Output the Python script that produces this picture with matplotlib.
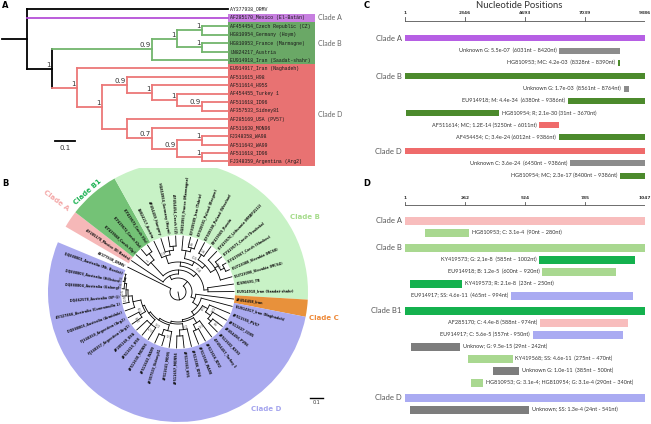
import numpy as np
import matplotlib.pyplot as plt
from matplotlib.patches import Rectangle, Wedge

# ---------------- data ----------------
# Panel A tips (top to bottom)
tips_A = ["AY377938_ORMV", "AF285170_Mexico (El-Batán)",
          "AF454454_Czech Republic (CZ)", "HG810954_Germany (Hoym)",
          "HG810953_France (Marmagne)", "LN824217_Austria",
          "EU914918_Iran (Saadat-shahr)", "EU914917_Iran (Naghadeh)",
          "AF511615_H98", "AF511614_H95S", "AF454455_Turkey 1", "AF511618_ID96",
          "AF357533_Sidney81", "AF285169_USA (PV57)", "AF511630_MON96",
          "FJ348358_WA98", "AF511643_WA99", "AF511618_ID96",
          "FJ348359_Argentina (Arg2)"]
clades_A = [("Clade A", 1, 1), ("Clade B", 2, 6), ("Clade D", 7, 18)]

# Panel B tips (clockwise from clade A)
tips_B = ["AF285170_Mexico (El-Batán)",
          "KY419568_Czech (Op)", "KY419572_Czech (Oz)", "KY419573_Czech (Ov)",
          "LN824217_Austria", "AF454459_Hungary", "HG810954_Germany (Hoym)",
          "AF454454_Czech (CZ)", "HG810953_France (Marmagne)", "KF939589_Iran (Tabriz)",
          "KF939591_Poland (Bergen)", "KF939590_Poland (Wroclaw)", "KY419569_Russia",
          "KY419570_Lithuania (MRBFU112)", "KY419571_Czech (Troubsko)",
          "KY419567_Czech (Slavkov)", "EU723088_Slovakia (MCS8)",
          "EU723090_Slovakia (MCS4)", "KC690691_TR", "EU914918_Iran (Saadat-shahr)",
          "AF454458_Iran",
          "EU914917_Iran (Naghadeh)", "AF511555_PV57", "AF511607_CO85", "AF454456_PV96",
          "AF511602_KS93", "AF454457_Turkey 1", "AF511616_ID92", "AF511568_WA98",
          "AF511586_ID94", "AF511563_H95", "AF511657_MON94", "AF511641_MO95",
          "AF357533_Sidney81", "AF511643_WA99", "AF511630_MON96", "AF511615_H98",
          "AF285169_USA", "FJ348357_Argentina (Arg1)", "FJ348359_Argentina (Arg2)",
          "DQ888805_Australia (Armidale)", "AY327866_Australia (Cunnamulla 1)",
          "DQ462578_Australia (SP-1)", "DQ888804_Australia (Galong)",
          "DQ888803_Australia (Hillston)", "DQ888801_Australia (Mt. Bordet)",
          "AY377938_ORMV"]
clades_B = [("Clade A", 0, 0, "#f6b8b8"), ("Clade B1", 1, 3, "#74c276"),
            ("Clade B", 4, 19, "#c8f2c6"), ("Clade C", 20, 20, "#e8913b"),
            ("Clade D", 21, 45, "#aaaaef")]

# Panel C (full genome)
c_labels = ["Clade A", "Unknown G: 5.5e-07  (6031nt – 8420nt)",
            "HG810953; MC: 4.2e-03  (8328nt – 8390nt)", "Clade B",
            "Unknown G: 1.7e-03  (8561nt – 8764nt)", "EU914918; M: 4.4e-34  (6380nt – 9386nt)",
            "HG810954; R; 2.1e-30 (31nt – 3670nt)", "AF511614; MC; 1.2E-14 (5250nt – 6011nt)",
            "AF454454; C; 3.4e-24 (6012nt – 9386nt)", "Clade D",
            "Unknown C: 3.6e-24  (6450nt – 9386nt)", "HG810954; MC; 2.3e-17 (8400nt – 9386nt)"]
c_start = [1, 6031, 8328, 1, 8561, 6380, 31, 5250, 6012, 1, 6450, 8400]
c_end = [9386, 8420, 8390, 9386, 8764, 9386, 3670, 6011, 9386, 9386, 9386, 9386]
c_colors = ["#b65fe4", "#8c8c8c", "#4c8a2c", "#4c8a2c", "#8c8c8c", "#4c8a2c",
            "#4c8a2c", "#ef6b6b", "#4c8a2c", "#ef6b6b", "#8c8c8c", "#4c8a2c"]
c_ticks = [1, 2346, 4693, 7039, 9386]

# Panel D (CP gene)
d_labels = ["Clade A", "HG810953; C: 3.1e-4  (90nt – 280nt)", "Clade B",
            "KY419573; G: 2,1e-8  (585nt – 1002nt)", "EU914918; B: 1.2e-5  (600nt – 920nt)",
            "KY419573; R: 2.1e-8  (23nt – 250nt)", "EU914917; SS: 4.6e-11  (465nt – 994nt)",
            "Clade B1", "AF285170; C: 4.4e-8 (588nt - 974nt)",
            "EU914917; C: 5.6e-5 (557nt - 950nt)", "Unknow; G: 9.5e-15 (29nt - 242nt)",
            "KY419568; SS: 4.6e-11  (275nt – 470nt)", "Unknown G: 1.0e-11  (385nt – 500nt)",
            "HG810953; G: 3.1e-4; HG810954; G: 3.1e-4 (290nt – 340nt)", "Clade D",
            "Unknown; SS: 1.3e-4 (24nt - 541nt)"]
d_start = [1, 90, 1, 585, 600, 23, 465, 1, 588, 557, 29, 275, 385, 290, 1, 24]
d_end = [1047, 280, 1047, 1002, 920, 250, 994, 1047, 974, 950, 242, 470, 500, 340, 1047, 541]
d_colors = ["#f8bdbd", "#a9d890", "#a9d890", "#14b14e", "#a9d890", "#14b14e", "#aaabf2",
            "#14b14e", "#f8bdbd", "#aaabf2", "#7d7d7d", "#a9d890", "#7d7d7d", "#a9d890",
            "#aaabf2", "#7d7d7d"]
d_ticks = [1, 262, 524, 785, 1047]


def N(pos, kids, sup=None, col=None):
    return {"pos": pos, "kids": kids, "sup": sup, "col": col}


# tree A: pos = node level
tree_A = N(1, [0, 1, N(2, [
    N(6, [N(7, [N(8, [2, 3], "1"), N(8, [4, 5], "1")], "1"), 6], "0.9", "#72b56c"),
    N(3, [7, N(4, [
        N(5, [8, N(6, [9, N(7, [10, N(8, [11, 12], "0.9")], "1")], "1")], "0.9"),
        N(5, [13, N(6, [14, N(7, [N(8, [15, 16], "1"), N(8, [17, 18], "1")], "0.9")], "0.7")]),
    ], "1")], "1", "#ec7777"),
], "1")], col="black")
tip_col_A = {1: "#b54fd8"}

# tree B: pos = radius
tree_B = N(8, [
    N(14, [
        N(18, [0, N(22, [
            N(40, [1, N(48, [2, 3])], "1"),
            N(26, [
                N(30, [
                    N(38, [4, N(42, [5, N(46, [6, 7])])], "0.9"),
                    N(34, [
                        N(42, [8, N(46, [9, 10], "0.8")]),
                        N(38, [N(44, [11, 12], "0.6"),
                               N(44, [13, N(48, [14, N(52, [15, 16])]), 17], "0.9")]),
                    ], "0.5"),
                ]),
                N(30, [18, 19]),
            ], "0.8"),
        ])]),
        N(18, [20, N(24, [21, N(28, [
            N(34, [22, N(40, [23, N(44, [24, 25], "0.8")])], "0.5"),
            N(30, [
                N(36, [26, N(42, [27, 28])], "0.5"),
                N(32, [
                    N(38, [29, N(44, [30, 31])]),
                    N(34, [
                        N(40, [32, N(46, [33, 34])], "0.5"),
                        N(36, [
                            N(42, [35, 36, 37], "0.7"),
                            N(38, [
                                N(44, [38, 39], "0.9"),
                                N(46, [40, N(50, [41, N(52, [42, N(54, [43, N(55, [44, 45], "0.8")], "0.6")], "0.5")], "0.9")]),
                            ], "0.9"),
                        ]),
                    ], "0.5"),
                ]),
            ], "0.9"),
        ])], "0.9")]),
    ]),
    46,
])

# ---------------- figure ----------------
W, H = 651, 424
fig = plt.figure(figsize=(W / 100, H / 100), dpi=100)


def px_axes(x0, y0, x1, y1):
    ax = fig.add_axes([x0 / W, 1 - y1 / H, (x1 - x0) / W, (y1 - y0) / H])
    ax.axis("off")
    return ax


# ---------- Panel A ----------
axA = px_axes(0, 0, 330, 172)
axA.set_xlim(-0.01, 1.64)
axA.set_ylim(19.25, -1.1)
step = 0.125
tip_x = 1.13


def layout_A(node):
    if isinstance(node, int):
        return node
    ys = [layout_A(k) for k in node["kids"]]
    node["lo"], node["hi"] = ys[0], ys[-1]
    node["y"] = (ys[0] + ys[-1]) / 2
    return node["y"]


def draw_A(node, px, color):
    if isinstance(node, int):
        c = tip_col_A.get(node, color)
        axA.plot([px, tip_x], [node, node], color=c, lw=1.3, solid_capstyle="projecting")
        return
    col = node["col"] or color
    x = node["pos"] * step
    axA.plot([px, x], [node["y"]] * 2, color=col, lw=1.3, solid_capstyle="projecting")
    axA.plot([x, x], [node["lo"], node["hi"]], color=col, lw=1.3, solid_capstyle="projecting")
    if node["sup"]:
        axA.text(x - 0.008, node["y"] - 0.12, node["sup"], ha="right", va="bottom",
                 fontsize=5, color="#333333")
    for k in node["kids"]:
        draw_A(k, x, col)


layout_A(tree_A)
box_cols = {"Clade A": "#c77fe0", "Clade B": "#6aa866", "Clade D": "#e87272"}
for name, a, b in clades_A:
    axA.add_patch(Rectangle((tip_x, a - 0.5), 0.435, b - a + 1, color=box_cols[name], lw=0))
    axA.text(1.58, (a + b) / 2, name, fontsize=5, color="#666666", family="Lato",
             va="center", ha="left", clip_on=False)
draw_A(tree_A, 0.0, "black")
for i, t in enumerate(tips_A):
    axA.text(tip_x + 0.01, i, t, fontsize=3.5, family="Liberation Mono",
             color="#1a1a1a", va="center")
axA.plot([0.265, 0.365], [15.55, 15.55], color="black", lw=1.3)
axA.text(0.315, 16.0, "0.1", fontsize=5, ha="center", va="top", color="#333333")

# ---------- Panel B ----------
axB = px_axes(0, 168, 345, 424)
axB.set_xlim(-178, 167)
axB.set_ylim(-132, 124)
nB = len(tips_B)
dA = 360 / nB
tip_ang = [146 - dA * i for i in range(nB)]
r_in, r_out, r_tip = 57, 130, 56

for name, a, b, col in clades_B:
    axB.add_patch(Wedge((0, 0), r_out, tip_ang[b] - dA / 2, tip_ang[a] + dA / 2,
                        width=r_out - r_in, color=col, lw=0))


def layout_B(node):
    if isinstance(node, int):
        return tip_ang[node]
    angs = [layout_B(k) for k in node["kids"]]
    node["lo"], node["hi"] = min(angs), max(angs)
    node["a"] = (node["lo"] + node["hi"]) / 2
    return node["a"]


def radial(ax, r0, r1, ang):
    t = np.radians(ang)
    ax.plot([r0 * np.cos(t), r1 * np.cos(t)], [r0 * np.sin(t), r1 * np.sin(t)],
            color="black", lw=0.6)


def draw_B(node, pr):
    if isinstance(node, int):
        radial(axB, pr, r_tip, tip_ang[node])
        return
    r = node["pos"]
    radial(axB, pr, r, node["a"])
    t = np.radians(np.linspace(node["lo"], node["hi"], 60))
    axB.plot(r * np.cos(t), r * np.sin(t), color="black", lw=0.6)
    if node["sup"]:
        t0 = np.radians(node["a"] + 2)
        axB.text((r + 3) * np.cos(t0), (r + 3) * np.sin(t0), node["sup"], fontsize=2.8,
                 color="#555555", ha="center", va="center", rotation=node["a"] - 90)
    for k in node["kids"]:
        draw_B(k, r)


layout_B(tree_B)
draw_B(tree_B, 0)
for i, t in enumerate(tips_B):
    a = ((tip_ang[i] + 180) % 360) - 180
    th = np.radians(a)
    if -90 <= a <= 90:
        rot, ha = a, "left"
    else:
        rot, ha = a - 180, "right"
    axB.text(59 * np.cos(th), 59 * np.sin(th), t, fontsize=2.3, fontweight="bold",
             rotation=rot, ha=ha, va="center", rotation_mode="anchor", color="#111111",
             clip_on=False)

lab_B = {"Clade A": (143, 152, -37, "#f4a9a9"), "Clade B1": (132, 135, 42, "#1db354"),
         "Clade B": (30.6, 147, 0, "#a6dc8c"), "Clade C": (-10, 148, 0, "#ee8a3a"),
         "Clade D": (-53, 146, 0, "#a5a5ee")}
for name, (ang, rr, rot, col) in lab_B.items():
    th = np.radians(ang)
    axB.text(rr * np.cos(th), rr * np.sin(th), name, fontsize=5, fontweight="bold",
             color=col, rotation=rot, ha="center", va="center", clip_on=False)
axB.plot([132, 145], [-106, -106], color="black", lw=1.0)
axB.text(138.5, -108, "0.1", fontsize=3.5, ha="center", va="top", color="#333333")


# ---------- Panels C & D ----------
def bar_panel(y_top, y_bot, labels, starts, ends, colors, ticks, y0, row_step, gap,
              bar_h, axis_y, title=None):
    ax = px_axes(405, y_top, 645, y_bot)
    xmax = ticks[-1]
    ax.set_xlim(1, xmax)
    ax.set_ylim(y_bot, y_top)
    ax.plot([1, xmax], [axis_y, axis_y], color="#555555", lw=0.6)
    for t in ticks:
        ax.plot([t, t], [axis_y - 3.5, axis_y], color="#555555", lw=0.6)
        ax.text(t, axis_y - 5, str(t), fontsize=3.2, ha="center", va="bottom",
                color="#333333", fontweight="bold", clip_on=False)
    if title:
        ax.text((1 + xmax) / 2 - 0.025 * xmax, axis_y - 10.5, title, fontsize=6.8,
                family="Lato", ha="center", va="bottom", color="#333333", clip_on=False)
    y = y0
    for i, lab in enumerate(labels):
        if lab.startswith("Clade") and i > 0:
            y += gap
        ax.barh(y, ends[i] - starts[i], left=starts[i], height=bar_h, color=colors[i], lw=0)
        if lab.startswith("Clade"):
            ax.annotate(lab, (1, y), xytext=(-2.5, 0), textcoords="offset points",
                        ha="right", va="center", fontsize=5.5, family="Lato",
                        color="#555555", annotation_clip=False)
        elif starts[i] > 0.43 * xmax:
            ax.annotate(lab, (starts[i], y), xytext=(-2, 0), textcoords="offset points",
                        ha="right", va="center", fontsize=4, family="Lato",
                        color="#333333", annotation_clip=False)
        else:
            ax.annotate(lab, (ends[i], y), xytext=(2, 0), textcoords="offset points",
                        ha="left", va="center", fontsize=4, family="Lato",
                        color="#333333", annotation_clip=False)
        y += row_step
    return ax


bar_panel(0, 185, c_labels, c_start, c_end, c_colors, c_ticks, 38.3, 12.2, 1.5, 6.0, 20.5,
          title="Nucleotide Positions")
bar_panel(185, 424, d_labels, d_start, d_end, d_colors, d_ticks, 220.7, 12.0, 3.0, 7.8, 205.0)

# panel letters
for letter, x, y in [("A", 5, 6), ("B", 5, 184), ("C", 367, 6), ("D", 367, 184)]:
    fig.text(x / W, 1 - y / H, letter, fontsize=6, fontweight="bold", ha="center",
             va="center")

plt.savefig("out.png", dpi=100)
